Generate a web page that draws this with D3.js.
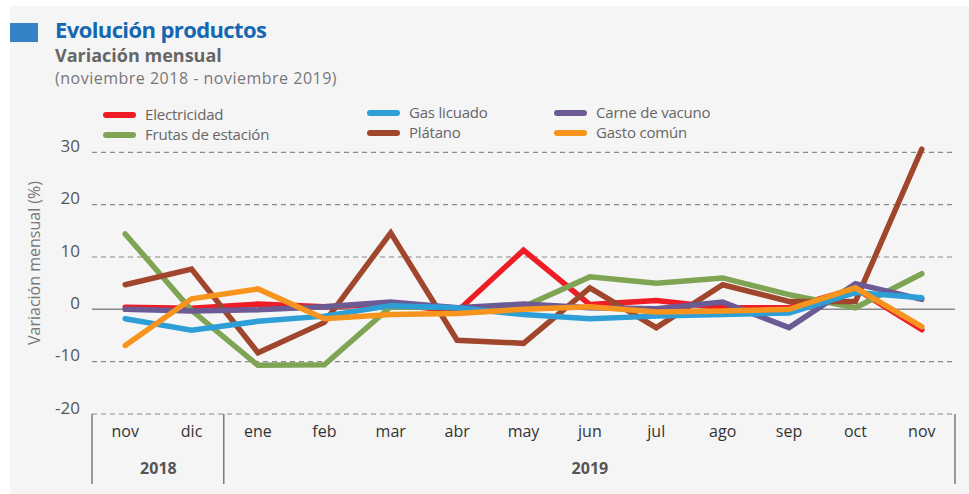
<!DOCTYPE html>
<html>
<head>
<meta charset="utf-8">
<script src="https://cdn.jsdelivr.net/npm/d3@7"></script>
<style>
  body { margin: 0; background: #fff; }
  svg { display: block; font-family: "Open Sans", sans-serif; }
</style>
</head>
<body>
<div id="chart"></div>
<script>
// months (nov 2018 - nov 2019)
const months = ["nov", "dic", "ene", "feb", "mar", "abr", "may", "jun", "jul", "ago", "sep", "oct", "nov"];
const years = [{label: "2018", from: 0, to: 1}, {label: "2019", from: 2, to: 12}];
const yTicks = [30, 20, 10, 0, -10, -20];

const electricidad = [0.4, 0.2, 1.0, 0.5, 1.0, -0.4, 11.3, 0.9, 1.7, 0.3, 0.3, 4.0, -3.9];
const frutas       = [14.4, -0.2, -10.7, -10.6, 0.5, 0.3, 0.5, 6.2, 5.0, 6.0, 2.8, 0.3, 6.8];
const platano      = [4.7, 7.7, -8.3, -2.5, 14.6, -5.9, -6.5, 4.1, -3.5, 4.7, 1.5, 1.5, 30.6];
const carne        = [0.0, -0.3, -0.1, 0.5, 1.4, 0.3, 1.0, 0.3, 0.1, 1.4, -3.5, 4.9, 1.9];
const gas          = [-1.8, -4.0, -2.3, -1.3, 0.7, 0.3, -1.0, -1.8, -1.3, -1.0, -0.7, 3.2, 2.2];
const gastoComun   = [-6.9, 2.0, 3.9, -1.8, -1.0, -0.8, 0.0, 0.5, -0.5, -0.3, 0.0, 4.1, -3.3];

const series = [
  {name: "Electricidad", values: electricidad, color: "#ee1c25", legend: [0, 0]},
  {name: "Frutas de estación", values: frutas, color: "#7ea454", legend: [0, 1]},
  {name: "Plátano", values: platano, color: "#a0462c", legend: [1, 1]},
  {name: "Carne de vacuno", values: carne, color: "#6b5a94", legend: [2, 0]},
  {name: "Gas licuado", values: gas, color: "#2e9fd6", legend: [1, 0]},
  {name: "Gasto común", values: gastoComun, color: "#f7941d", legend: [2, 1]}
];

const W = 969, H = 494;
const plot = {left: 92, right: 955, top: 152.3, bottom: 414};

const svg = d3.select("#chart").append("svg").attr("width", W).attr("height", H);

// panel background
svg.append("rect").attr("x", 10).attr("y", 6).attr("width", W - 10).attr("height", H - 6).attr("fill", "#f5f5f5");

// header
svg.append("rect").attr("x", 10).attr("y", 23).attr("width", 28).attr("height", 19).attr("fill", "#3383c5");
svg.append("text").attr("x", 55).attr("y", 38).attr("fill", "#1467b0")
  .style("font-size", "22px").style("font-weight", "bold").style("letter-spacing", "-0.6px")
  .text("Evolución productos");
svg.append("text").attr("x", 55).attr("y", 62).attr("fill", "#666")
  .style("font-size", "18px").style("font-weight", "bold")
  .text("Variación mensual");
svg.append("text").attr("x", 55).attr("y", 84).attr("fill", "#777")
  .style("font-size", "16px").style("letter-spacing", "0.5px")
  .text("(noviembre 2018 - noviembre 2019)");

// scales
const x = d3.scaleBand().domain(d3.range(months.length)).range([plot.left, plot.right]);
const y = d3.scaleLinear().domain([-20, 30]).range([plot.bottom, plot.top]);

// grid
svg.append("g").selectAll("line").data(yTicks.filter(d => d !== 0)).join("line")
  .attr("x1", plot.left).attr("x2", plot.right - 2)
  .attr("y1", d => y(d)).attr("y2", d => y(d))
  .attr("stroke", "#8a8a8a").attr("stroke-width", 1.2).attr("stroke-dasharray", "5,4");
svg.append("line").attr("x1", plot.left).attr("x2", plot.right)
  .attr("y1", y(0)).attr("y2", y(0)).attr("stroke", "#8a8a8a").attr("stroke-width", 1.5);

// y axis labels (plain hyphen for negatives)
const yAxis = svg.append("g").attr("transform", `translate(80,0)`)
  .call(d3.axisLeft(y).tickValues(yTicks).tickFormat(d => String(d)).tickSize(0).tickPadding(0));
yAxis.select(".domain").remove();
yAxis.selectAll("text").attr("fill", "#555").style("font-size", "17px")
  .style("font-family", "'Open Sans', sans-serif").attr("dy", "-0.05em");

svg.append("text")
  .attr("transform", `translate(40,263) rotate(-90)`)
  .attr("text-anchor", "middle").attr("fill", "#777")
  .style("font-size", "16px")
  .text("Variación mensual (%)");

// x axis: months and years
const xAxis = svg.append("g").attr("transform", `translate(0,${plot.bottom})`)
  .call(d3.axisBottom(x).tickFormat(i => months[i]).tickSize(0).tickPadding(12));
xAxis.select(".domain").remove();
xAxis.selectAll("text").attr("fill", "#333").style("font-size", "16px")
  .style("font-family", "'Open Sans', sans-serif");

const sepX = [plot.left, (x(1) + x.bandwidth() + x(2)) / 2 - 1, plot.right];
svg.append("g").selectAll("line").data(sepX).join("line")
  .attr("x1", d => d).attr("x2", d => d)
  .attr("y1", plot.bottom).attr("y2", 484)
  .attr("stroke", "#7a7a7a").attr("stroke-width", 1.5);

svg.append("g").selectAll("text").data(years).join("text")
  .attr("x", d => (x(d.from) + x(d.to) + x.bandwidth()) / 2)
  .attr("y", 474).attr("text-anchor", "middle").attr("fill", "#555")
  .style("font-size", "16px").style("font-weight", "bold")
  .text(d => d.label);

// lines
const line = d3.line()
  .x((d, i) => x(i) + x.bandwidth() / 2)
  .y(d => y(d));

svg.append("g").selectAll("path").data(series).join("path")
  .attr("d", d => line(d.values))
  .attr("fill", "none")
  .attr("stroke", d => d.color)
  .attr("stroke-width", 5.5)
  .attr("stroke-linejoin", "miter")
  .attr("stroke-linecap", "round");

// legend
const legCols = [102, 366, 553];
const legRows = [115, 135];
const leg = svg.append("g").selectAll("g").data(series).join("g")
  .attr("transform", d => `translate(${legCols[d.legend[0]]},${legRows[d.legend[1]] - (d.legend[0] > 0 ? 2 : 0)})`);
leg.append("line").attr("x1", 4).attr("x2", 31).attr("y1", 0).attr("y2", 0)
  .attr("stroke", d => d.color).attr("stroke-width", 6).attr("stroke-linecap", "round");
leg.append("text").attr("x", 43).attr("y", 0).attr("dy", "0.3em")
  .attr("fill", "#666").style("font-size", "15px").style("letter-spacing", "-0.2px")
  .text(d => d.name);
</script>
</body>
</html>
